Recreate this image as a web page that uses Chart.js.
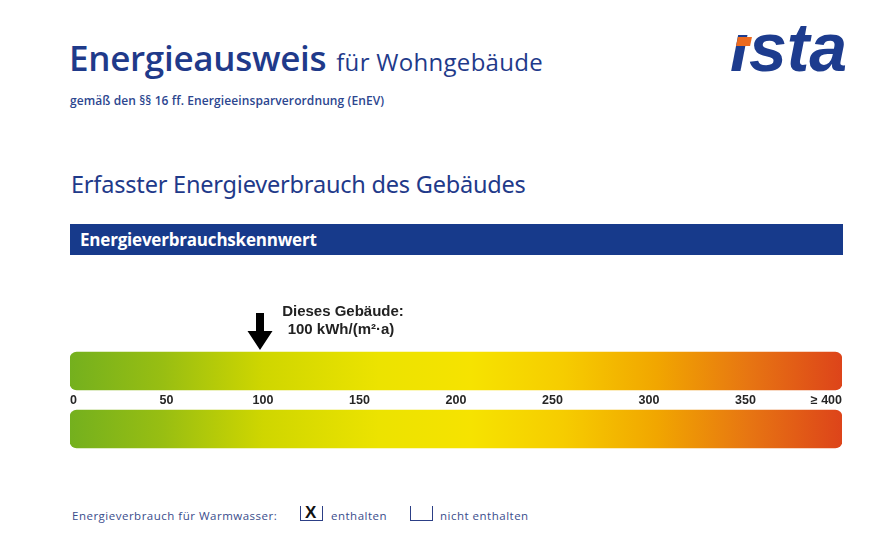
<!DOCTYPE html>
<html lang="de">
<head>
<meta charset="utf-8">
<title>Energieausweis</title>
<script src="https://cdn.jsdelivr.net/npm/chart.js@4/dist/chart.umd.min.js"></script>
<style>
    body { margin: 0; width: 896px; height: 535px; background: #fff; position: relative; overflow: hidden; font-family: "Open Sans", sans-serif; }
    .abs { position: absolute; white-space: nowrap; }
    #titel { left: 69px; top: 34px; color: #1f3a8a; font-size: 35px; font-weight: 600; letter-spacing: -0.3px; }
    #titel small { font-size: 24px; font-weight: 400; letter-spacing: 0.3px; margin-left: 10px; }
    #untertitel { left: 70px; top: 92px; color: #2c468f; font-size: 12px; font-weight: 600; letter-spacing: 0.1px; }
    #logo { left: 730px; top: 8px; color: #1d3c8e; font-family: "Liberation Sans", sans-serif; font-size: 68px; font-weight: bold; font-style: italic; letter-spacing: 0px; }
    #logoPunkt { left: 737px; top: 37px; width: 14px; height: 9px; background: #ec6a1e; transform: skewX(-12deg); }
    #abschnitt { left: 71px; top: 168px; color: #1f3a8a; font-size: 23.5px; font-family: "Noto Sans", sans-serif; letter-spacing: -0.2px; }
    #band { left: 70px; top: 224px; width: 773px; height: 31px; background: #173a8b; }
    #band span { position: absolute; left: 10px; top: 4px; color: #fff; font-size: 17px; font-weight: 700; letter-spacing: -0.2px; }
    #wrap { left: 60px; top: 300px; width: 792px; height: 160px; }
    .fuss { position: absolute; top: 508px; color: #3a4d8c; font-size: 11.5px; letter-spacing: 0.5px; white-space: nowrap; }
    .box { position: absolute; top: 506px; width: 21px; height: 14px; border: 1.5px solid #2c3f86; border-top: none; }
    .box b { position: absolute; left: 4px; top: -3px; font-family: "Liberation Sans", sans-serif; font-size: 17px; color: #111; }
</style>
</head>
<body>
<div id="titel" class="abs">Energieausweis<small>für Wohngebäude</small></div>
<div id="untertitel" class="abs">gemäß den §§ 16 ff. Energieeinsparverordnung (EnEV)</div>
<div id="logo" class="abs">ısta</div>
<div id="logoPunkt" class="abs"></div>
<div id="abschnitt" class="abs">Erfasster Energieverbrauch des Gebäudes</div>
<div id="band" class="abs"><span>Energieverbrauchskennwert</span></div>
<div id="wrap" class="abs"><canvas id="skala"></canvas></div>
<div class="fuss" style="left:72px">Energieverbrauch für Warmwasser:</div>
<div class="box" style="left:300px"><b>X</b></div>
<div class="fuss" style="left:331px">enthalten</div>
<div class="box" style="left:410px"></div>
<div class="fuss" style="left:440px">nicht enthalten</div>

<script>
// ===== Daten =====
const balken = ["oben", "unten"];
const balkenWerte = [400, 400];
const skalaLabels = ["0", "50", "100", "150", "200", "250", "300", "350", "≥ 400"];
const gebaeudeWert = 100;
const gebaeudeText = ["Dieses Gebäude:", "100 kWh/(m²·a)"];

// ===== Farbverlauf grün -> rot =====
function verlauf(context) {
    const { chart } = context;
    const area = chart.chartArea;
    if (!area) return null;
    const g = chart.ctx.createLinearGradient(area.left, 0, area.right, 0);
    g.addColorStop(0.00, "#74b01e");
    g.addColorStop(0.12, "#98be12");
    g.addColorStop(0.25, "#cfd600");
    g.addColorStop(0.40, "#ece300");
    g.addColorStop(0.52, "#f6e300");
    g.addColorStop(0.64, "#f6cc00");
    g.addColorStop(0.76, "#f1a600");
    g.addColorStop(0.88, "#e77512");
    g.addColorStop(1.00, "#dd441a");
    return g;
}

// ===== Pfeil + Beschriftung =====
const pfeilPlugin = {
    id: "pfeil",
    afterDatasetsDraw(chart) {
        const { ctx, chartArea } = chart;
        const x = chart.scales.x.getPixelForValue(gebaeudeWert) - 3;
        const top = chartArea.top;
        ctx.save();
        ctx.fillStyle = "#000";
        ctx.beginPath();
        ctx.moveTo(x - 4, top - 29);
        ctx.lineTo(x + 4, top - 29);
        ctx.lineTo(x + 4, top - 11);
        ctx.lineTo(x + 12.5, top - 11);
        ctx.lineTo(x, top + 8);
        ctx.lineTo(x - 12.5, top - 11);
        ctx.lineTo(x - 4, top - 11);
        ctx.closePath();
        ctx.fill();

        ctx.font = "bold 15px 'Liberation Sans', Arial";
        ctx.fillStyle = "#222";
        ctx.textAlign = "center";
        ctx.textBaseline = "middle";
        ctx.fillText(gebaeudeText[0], x + 83, top - 30);
        ctx.fillText(gebaeudeText[1], x + 81, top - 12);
        ctx.restore();
    }
};

new Chart(document.getElementById("skala"), {
    type: "bar",
    data: {
        labels: balken,
        datasets: [{
            data: balkenWerte,
            backgroundColor: verlauf,
            borderRadius: 7,
            borderSkipped: false,
            barThickness: 38
        }]
    },
    options: {
        indexAxis: "y",
        responsive: true,
        maintainAspectRatio: false,
        animation: false,
        layout: { padding: { left: 10, right: 10, top: 42, bottom: 2 } },
        scales: {
            x: {
                min: 0,
                max: 400,
                position: { y: 0.5 },
                grid: { display: false },
                border: { display: false },
                ticks: {
                    stepSize: 50,
                    align: "inner",
                    padding: -15,
                    color: "#262626",
                    font: { family: "'Liberation Sans', Arial", size: 12.5, weight: "bold" },
                    callback: (v, i) => skalaLabels[i]
                }
            },
            y: { display: false }
        },
        plugins: {
            legend: { display: false },
            tooltip: { enabled: false }
        }
    },
    plugins: [pfeilPlugin]
});
</script>
</body>
</html>
